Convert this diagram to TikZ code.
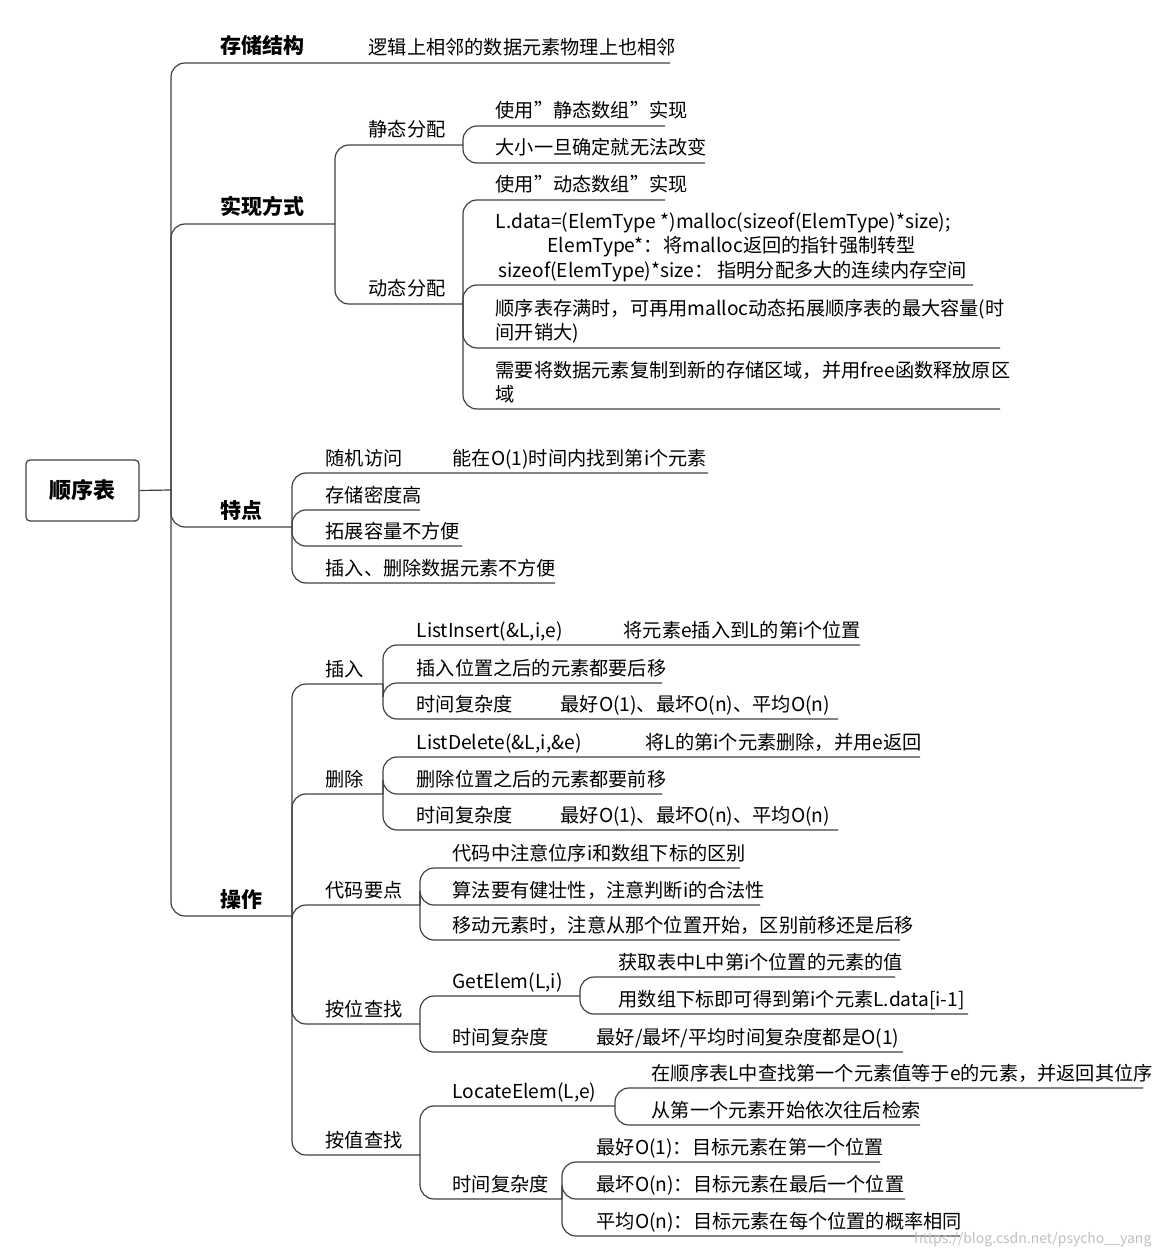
\documentclass[tikz,border=0pt]{standalone}
\usepackage{fontspec}
\setmainfont{Noto Sans CJK SC}
\begin{document}
\begin{tikzpicture}[x=0.5pt,y=-0.5pt,line width=0.6pt,
  conn/.style={draw=black!75,rounded corners=7pt},
  txt/.style={anchor=base west,inner sep=0pt,font=\fontsize{9.6pt}{12pt}\selectfont},
  head/.style={anchor=base west,inner sep=0pt,font=\fontsize{10.5pt}{13pt}\selectfont\bfseries}]
\useasboundingbox (0,0) rectangle (1162,1256);
\newcommand\br[4]{\draw[conn] (#1,#2) |- (#4,#3);}
\newcommand\tx[3]{\node[txt] at (#1,#2-8) {#3};}
\newcommand\hd[3]{\node[head] at (#1,#2-9) {#3};}
% root
\node[draw=black!75,rounded corners=2pt,minimum width=56.5pt,minimum height=30.5pt,font=\fontsize{11pt}{13pt}\selectfont\bfseries] (root) at (82.5,490.5) {顺序表};
\coordinate (t) at (171,490);
\draw[black!75] (root.east) -- (t);
\br{171}{490}{63}{670}\br{171}{490}{224}{335}\br{171}{490}{527}{292}\br{171}{490}{916}{292}
\hd{220}{63}{存储结构}\hd{220}{224}{实现方式}\hd{220}{527}{特点}\hd{220}{916}{操作}
\tx{368}{63}{逻辑上相邻的数据元素物理上也相邻}
% 实现方式
\br{335}{224}{145}{463}\br{335}{224}{304}{463}
\tx{368}{145}{静态分配}\tx{368}{304}{动态分配}
\br{463}{145}{126}{665}\br{463}{145}{163}{705}
\tx{495}{126}{使用"静态数组"实现}\tx{495}{163}{大小一旦确定就无法改变}
\br{463}{304}{200}{665}\br{463}{304}{285}{973}\br{463}{304}{348}{1000}\br{463}{304}{409}{1000}
\tx{495}{200}{使用"动态数组"实现}
\node[txt] at (495,229) {L.data=(ElemType *)malloc(sizeof(ElemType)*size);};
\node[txt] at (547,253) {ElemType*：将malloc返回的指针强制转型};
\node[txt] at (498,278) {sizeof(ElemType)*size：\ 指明分配多大的连续内存空间};
\node[txt] at (495,316) {顺序表存满时，可再用malloc动态拓展顺序表的最大容量(时};
\tx{495}{348}{间开销大)}
\node[txt] at (495,378) {需要将数据元素复制到新的存储区域，并用free函数释放原区};
\tx{495}{409}{域}
% 特点
\br{292}{527}{473}{708}\br{292}{527}{510}{420}\br{292}{527}{546}{462}\br{292}{527}{583}{555}
\tx{325}{473}{随机访问}\tx{452}{473}{能在O(1)时间内找到第i个元素}
\tx{325}{510}{存储密度高}\tx{325}{546}{拓展容量不方便}\tx{325}{583}{插入、删除数据元素不方便}
% 操作
\br{292}{916}{684}{383}\br{292}{916}{794}{383}\br{292}{916}{905}{420}\br{292}{916}{1024}{420}\br{292}{916}{1155}{420}
\tx{325}{684}{插入}\tx{325}{794}{删除}\tx{325}{905}{代码要点}\tx{325}{1024}{按位查找}\tx{325}{1155}{按值查找}
\br{383}{684}{645}{860}\br{383}{684}{683}{662}\br{383}{684}{719}{838}
\tx{416}{645}{ListInsert(\&L,i,e)}\tx{623}{645}{将元素e插入到L的第i个位置}
\tx{416}{683}{插入位置之后的元素都要后移}
\tx{416}{719}{时间复杂度}\tx{560}{719}{最好O(1)、最坏O(n)、平均O(n)}
\br{383}{794}{757}{920}\br{383}{794}{794}{662}\br{383}{794}{830}{838}
\tx{416}{757}{ListDelete(\&L,i,\&e)}\tx{645}{757}{将L的第i个元素删除，并用e返回}
\tx{416}{794}{删除位置之后的元素都要前移}
\tx{416}{830}{时间复杂度}\tx{560}{830}{最好O(1)、最坏O(n)、平均O(n)}
\br{420}{905}{868}{740}\br{420}{905}{905}{760}\br{420}{905}{940}{900}
\tx{452}{868}{代码中注意位序i和数组下标的区别}
\tx{452}{905}{算法要有健壮性，注意判断i的合法性}
\tx{452}{940}{移动元素时，注意从那个位置开始，区别前移还是后移}
\br{420}{1024}{996}{580}\br{420}{1024}{1052}{903}
\tx{452}{996}{GetElem(L,i)}\tx{452}{1052}{时间复杂度}\tx{596}{1052}{最好/最坏/平均时间复杂度都是O(1)}
\br{580}{996}{977}{895}\br{580}{996}{1014}{968}
\tx{618}{977}{获取表中L中第i个位置的元素的值}\tx{618}{1014}{用数组下标即可得到第i个元素L.data[i-1]}
\br{420}{1155}{1106}{615}\br{420}{1155}{1199}{562}
\tx{452}{1106}{LocateElem(L,e)}\tx{452}{1199}{时间复杂度}
\br{615}{1106}{1088}{1143}\br{615}{1106}{1125}{920}
\tx{651}{1088}{在顺序表L中查找第一个元素值等于e的元素，并返回其位序}
\tx{651}{1125}{从第一个元素开始依次往后检索}
\br{562}{1199}{1162}{880}\br{562}{1199}{1199}{905}\br{562}{1199}{1236}{960}
\tx{596}{1162}{最好O(1)：目标元素在第一个位置}
\tx{596}{1199}{最坏O(n)：目标元素在最后一个位置}
\tx{596}{1236}{平均O(n)：目标元素在每个位置的概率相同}
\node[anchor=base east,inner sep=0pt,text=black!25,font=\fontsize{7pt}{8pt}\selectfont] at (1152,1243) {https://blog.csdn.net/psycho\_\_yang};
\end{tikzpicture}
\end{document}
